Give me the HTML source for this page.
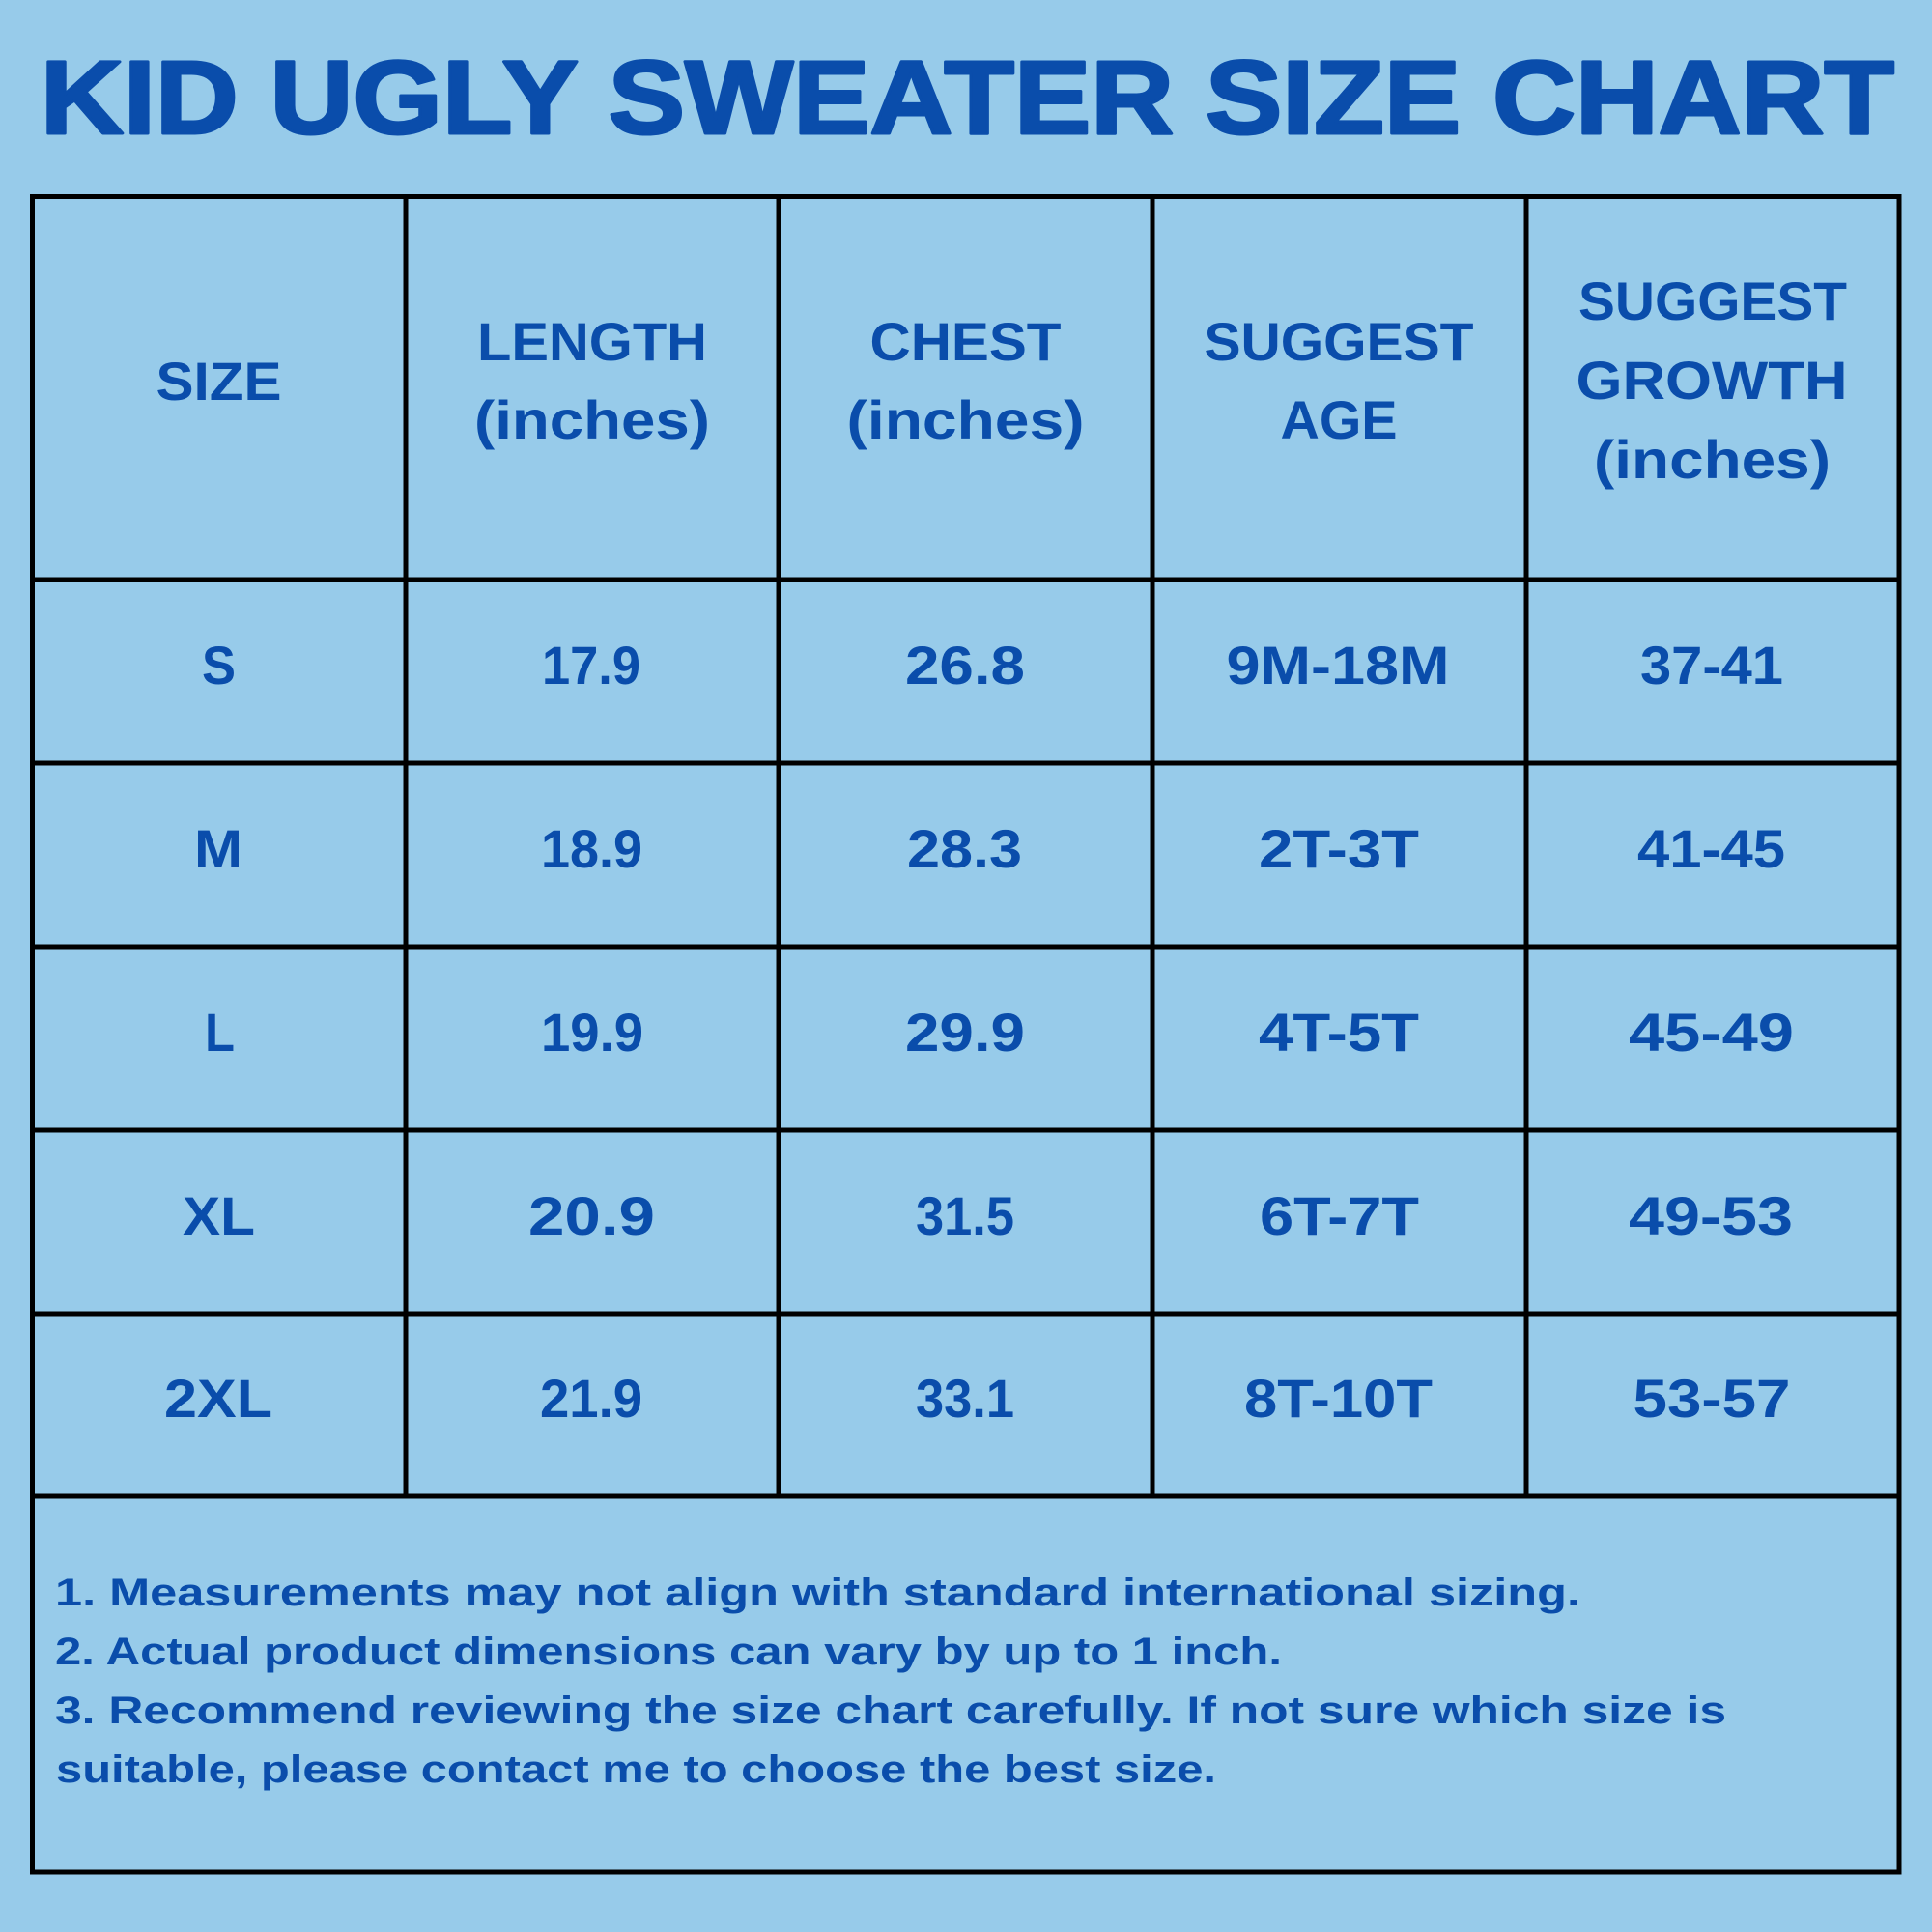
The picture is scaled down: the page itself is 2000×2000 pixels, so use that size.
<!DOCTYPE html>
<html>
<head>
<meta charset="utf-8">
<style>
  html, body { margin:0; padding:0; background:#97cbea; }
  svg { display:block; }
  text { font-family: "Liberation Sans", "DejaVu Sans", sans-serif; font-weight: bold; fill:#0a4dab; }
</style>
</head>
<body>
<svg width="2000" height="2000" viewBox="0 0 2000 2000" xmlns="http://www.w3.org/2000/svg">
  <rect x="0" y="0" width="2000" height="2000" fill="#97cbea"/>

  <!-- Title -->
  <text x="42" y="138" font-size="108" textLength="1919" lengthAdjust="spacingAndGlyphs" stroke="#0a4dab" stroke-width="3" stroke-linejoin="round">KID UGLY SWEATER SIZE CHART</text>

  <!-- Grid lines -->
  <g stroke="#000" stroke-width="5" fill="none">
    <rect x="33.5" y="203.5" width="1932.5" height="1734.5"/>
    <line x1="33" y1="600" x2="1966" y2="600"/>
    <line x1="33" y1="790" x2="1966" y2="790"/>
    <line x1="33" y1="980" x2="1966" y2="980"/>
    <line x1="33" y1="1170" x2="1966" y2="1170"/>
    <line x1="33" y1="1360" x2="1966" y2="1360"/>
    <line x1="33" y1="1549" x2="1966" y2="1549"/>
    <line x1="420" y1="203" x2="420" y2="1549"/>
    <line x1="806" y1="203" x2="806" y2="1549"/>
    <line x1="1193" y1="203" x2="1193" y2="1549"/>
    <line x1="1580" y1="203" x2="1580" y2="1549"/>
  </g>

  <!-- Header -->
  <g font-size="56" text-anchor="middle">
    <text x="226.5" y="414" textLength="130" lengthAdjust="spacingAndGlyphs">SIZE</text>
    <text x="613" y="373" textLength="238" lengthAdjust="spacingAndGlyphs">LENGTH</text>
    <text x="613" y="454" textLength="244" lengthAdjust="spacingAndGlyphs">(inches)</text>
    <text x="999.5" y="373" textLength="198" lengthAdjust="spacingAndGlyphs">CHEST</text>
    <text x="999.5" y="454" textLength="246" lengthAdjust="spacingAndGlyphs">(inches)</text>
    <text x="1386" y="373" textLength="279" lengthAdjust="spacingAndGlyphs">SUGGEST</text>
    <text x="1386" y="454" textLength="121" lengthAdjust="spacingAndGlyphs">AGE</text>
    <text x="1773" y="331" textLength="278" lengthAdjust="spacingAndGlyphs">SUGGEST</text>
    <text x="1772" y="413" textLength="281" lengthAdjust="spacingAndGlyphs">GROWTH</text>
    <text x="1772.5" y="495" textLength="245" lengthAdjust="spacingAndGlyphs">(inches)</text>
  </g>

  <!-- Data -->
  <g font-size="56" text-anchor="middle">
    <text x="226.5" y="708" textLength="35" lengthAdjust="spacingAndGlyphs">S</text>
    <text x="612" y="708" textLength="102" lengthAdjust="spacingAndGlyphs">17.9</text>
    <text x="999" y="708" textLength="124" lengthAdjust="spacingAndGlyphs">26.8</text>
    <text x="1385" y="708" textLength="231" lengthAdjust="spacingAndGlyphs">9M-18M</text>
    <text x="1772" y="708" textLength="148" lengthAdjust="spacingAndGlyphs">37-41</text>

    <text x="226" y="898" textLength="50" lengthAdjust="spacingAndGlyphs">M</text>
    <text x="612.5" y="898" textLength="105" lengthAdjust="spacingAndGlyphs">18.9</text>
    <text x="998.5" y="898" textLength="119" lengthAdjust="spacingAndGlyphs">28.3</text>
    <text x="1386" y="898" textLength="166" lengthAdjust="spacingAndGlyphs">2T-3T</text>
    <text x="1771.5" y="898" textLength="153" lengthAdjust="spacingAndGlyphs">41-45</text>

    <text x="227.5" y="1088" textLength="31" lengthAdjust="spacingAndGlyphs">L</text>
    <text x="613" y="1088" textLength="106" lengthAdjust="spacingAndGlyphs">19.9</text>
    <text x="999" y="1088" textLength="124" lengthAdjust="spacingAndGlyphs">29.9</text>
    <text x="1386" y="1088" textLength="166" lengthAdjust="spacingAndGlyphs">4T-5T</text>
    <text x="1771.5" y="1088" textLength="171" lengthAdjust="spacingAndGlyphs">45-49</text>

    <text x="226.5" y="1278" textLength="75" lengthAdjust="spacingAndGlyphs">XL</text>
    <text x="612.5" y="1278" textLength="131" lengthAdjust="spacingAndGlyphs">20.9</text>
    <text x="999" y="1278" textLength="102" lengthAdjust="spacingAndGlyphs">31.5</text>
    <text x="1386.5" y="1278" textLength="165" lengthAdjust="spacingAndGlyphs">6T-7T</text>
    <text x="1771" y="1278" textLength="170" lengthAdjust="spacingAndGlyphs">49-53</text>

    <text x="226" y="1467" textLength="112" lengthAdjust="spacingAndGlyphs">2XL</text>
    <text x="612" y="1467" textLength="106" lengthAdjust="spacingAndGlyphs">21.9</text>
    <text x="999" y="1467" textLength="102" lengthAdjust="spacingAndGlyphs">33.1</text>
    <text x="1385.5" y="1467" textLength="195" lengthAdjust="spacingAndGlyphs">8T-10T</text>
    <text x="1772" y="1467" textLength="163" lengthAdjust="spacingAndGlyphs">53-57</text>
  </g>

  <!-- Notes -->
  <g font-size="40">
    <text x="57" y="1662" textLength="1579" lengthAdjust="spacingAndGlyphs">1. Measurements may not align with standard international sizing.</text>
    <text x="57" y="1723" textLength="1270" lengthAdjust="spacingAndGlyphs">2. Actual product dimensions can vary by up to 1 inch.</text>
    <text x="57" y="1784" textLength="1730" lengthAdjust="spacingAndGlyphs">3. Recommend reviewing the size chart carefully. If not sure which size is</text>
    <text x="58" y="1845" textLength="1201" lengthAdjust="spacingAndGlyphs">suitable, please contact me to choose the best size.</text>
  </g>
</svg>
</body>
</html>
